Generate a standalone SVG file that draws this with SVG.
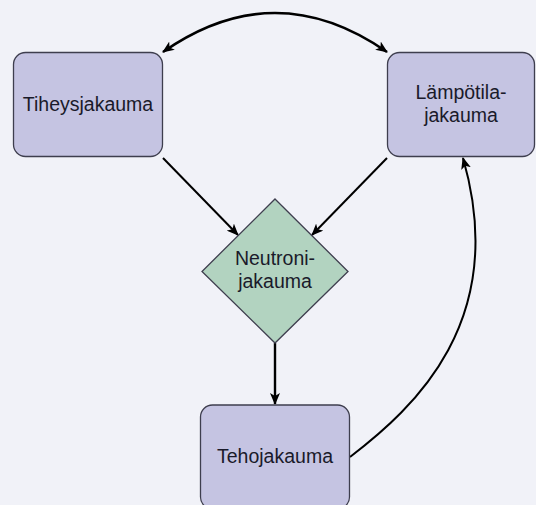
<svg xmlns="http://www.w3.org/2000/svg" width="536" height="505" viewBox="0 0 536 505">
<style>
.box{fill:#C5C4E2;stroke:#3E3E4E;stroke-width:1.3}
.dia{fill:#B2D3C0;stroke:#3E3E4E;stroke-width:1.3}
.lbl{font-family:"Liberation Sans",Arial,sans-serif;font-size:19.5px;fill:#1a1a2a;text-anchor:middle}
.edge{fill:none;stroke:#000;stroke-width:2}
</style>
<defs>
<marker id="arr" viewBox="0 0 12 10" refX="11" refY="5" markerWidth="12" markerHeight="10" markerUnits="userSpaceOnUse" orient="auto-start-reverse">
<path d="M0,0 L12,5 L0,10 L3,5 Z" fill="#000"/>
</marker>
</defs>
<rect width="536" height="505" fill="#F1F2F8"/>
<g id="connectors">
<path class="edge" style="stroke-width:2.6" d="M163,52 Q275,-26 387,52" marker-start="url(#arr)" marker-end="url(#arr)"/>
<path class="edge" d="M163,158 L238,235" marker-end="url(#arr)"/>
<path class="edge" d="M387,158 L312,235" marker-end="url(#arr)"/>
<path class="edge" style="stroke-width:2.4" d="M275,343 L275,404" marker-end="url(#arr)"/>
<path class="edge" d="M350,457 C414,408 510,321 463,158" marker-end="url(#arr)"/>
</g>
<g id="node-tiheys">
<rect class="box" x="13.5" y="52.5" width="149" height="104" rx="12"/>
<text class="lbl" x="88" y="111">Tiheysjakauma</text>
</g>
<g id="node-lampotila">
<rect class="box" x="387.5" y="52.5" width="147" height="104" rx="12"/>
<text class="lbl" x="461" y="99">Lämpötila-</text>
<text class="lbl" x="461" y="122">jakauma</text>
</g>
<g id="node-neutroni">
<polygon class="dia" points="275,199 348,271.5 275,343 202,271.5"/>
<text class="lbl" x="275" y="265">Neutroni-</text>
<text class="lbl" x="275" y="288">jakauma</text>
</g>
<g id="node-teho">
<rect class="box" x="200.5" y="405" width="149" height="104" rx="12"/>
<text class="lbl" x="275" y="462.5">Tehojakauma</text>
</g>
</svg>
